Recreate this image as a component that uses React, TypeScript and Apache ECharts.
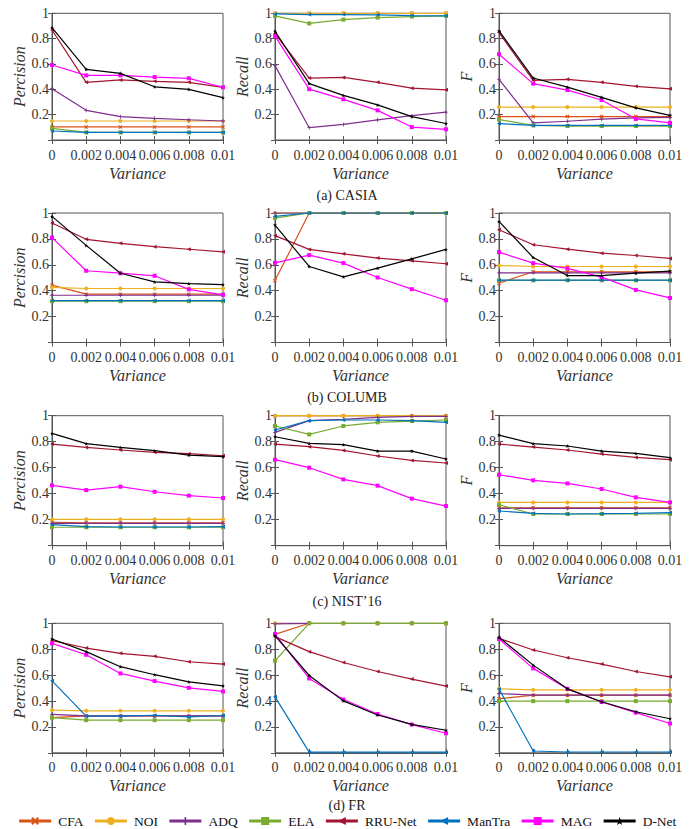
import React, { useEffect, useRef } from "react";
import * as echarts from "echarts";

const variances = [0, 0.002, 0.004, 0.006, 0.008, 0.01];
const methods = ["CFA", "NOI", "ADQ", "ELA", "RRU-Net", "ManTra", "MAG", "D-Net"];
const methodColors = ["#D95319", "#EDB120", "#7E2F8E", "#77AC30", "#A2142F", "#0072BD", "#FF00FF", "#000000"];
const yTicks = [0, 0.2, 0.4, 0.6, 0.8, 1];
const xTicks = [0, 0.002, 0.004, 0.006, 0.008, 0.01];
const subtitles = ["(a) CASIA", "(b) COLUMB", "(c) NIST\u201916", "(d) FR"];
const metricNames = ["Percision", "Recall", "F"];

// rows: CFA, NOI, ADQ, ELA, RRU-Net, ManTra, MAG, D-Net
const casiaP = [
  [0.103, 0.103, 0.103, 0.103, 0.103, 0.103],
  [0.15, 0.15, 0.15, 0.15, 0.15, 0.15],
  [0.405, 0.234, 0.184, 0.171, 0.16, 0.15],
  [0.092, 0.06, 0.06, 0.06, 0.06, 0.06],
  [0.868, 0.455, 0.474, 0.463, 0.455, 0.416],
  [0.071, 0.06, 0.06, 0.06, 0.06, 0.06],
  [0.592, 0.51, 0.51, 0.497, 0.487, 0.416],
  [0.887, 0.558, 0.526, 0.42, 0.4, 0.334],
];
const casiaR = [
  [1, 1, 1, 1, 1, 1],
  [1, 1, 1, 1, 1, 1],
  [0.587, 0.097, 0.123, 0.159, 0.192, 0.22],
  [0.98, 0.92, 0.95, 0.966, 0.974, 0.98],
  [0.84, 0.489, 0.494, 0.455, 0.409, 0.396],
  [0.995, 0.99, 0.99, 0.988, 0.982, 0.98],
  [0.82, 0.401, 0.321, 0.234, 0.102, 0.084],
  [0.858, 0.445, 0.352, 0.277, 0.184, 0.13],
];
const casiaF = [
  [0.185, 0.185, 0.185, 0.185, 0.185, 0.185],
  [0.26, 0.26, 0.26, 0.26, 0.26, 0.26],
  [0.479, 0.135, 0.148, 0.164, 0.174, 0.179],
  [0.161, 0.115, 0.11, 0.11, 0.11, 0.11],
  [0.848, 0.471, 0.479, 0.455, 0.424, 0.404],
  [0.13, 0.115, 0.115, 0.115, 0.115, 0.115],
  [0.677, 0.445, 0.394, 0.316, 0.166, 0.135],
  [0.861, 0.489, 0.417, 0.337, 0.254, 0.195],
];
const columbP = [
  [0.443, 0.373, 0.373, 0.373, 0.373, 0.373],
  [0.425, 0.417, 0.417, 0.417, 0.417, 0.417],
  [0.365, 0.365, 0.365, 0.365, 0.365, 0.365],
  [0.319, 0.319, 0.319, 0.319, 0.319, 0.319],
  [0.923, 0.797, 0.766, 0.74, 0.72, 0.7],
  [0.324, 0.324, 0.324, 0.324, 0.324, 0.324],
  [0.81, 0.554, 0.535, 0.515, 0.41, 0.368],
  [0.974, 0.75, 0.535, 0.468, 0.455, 0.447],
];
const columbR = [
  [0.478, 1, 1, 1, 1, 1],
  [1, 1, 1, 1, 1, 1],
  [1, 1, 1, 1, 1, 1],
  [0.961, 1, 1, 1, 1, 1],
  [0.825, 0.719, 0.685, 0.652, 0.631, 0.608],
  [0.974, 1, 1, 1, 1, 1],
  [0.615, 0.675, 0.613, 0.502, 0.412, 0.326],
  [0.907, 0.587, 0.507, 0.574, 0.646, 0.719],
];
const columbF = [
  [0.458, 0.546, 0.546, 0.546, 0.546, 0.546],
  [0.595, 0.587, 0.587, 0.587, 0.587, 0.587],
  [0.538, 0.538, 0.538, 0.538, 0.538, 0.538],
  [0.48, 0.48, 0.48, 0.48, 0.48, 0.48],
  [0.871, 0.755, 0.721, 0.69, 0.672, 0.649],
  [0.481, 0.481, 0.481, 0.481, 0.481, 0.481],
  [0.698, 0.613, 0.572, 0.505, 0.406, 0.344],
  [0.935, 0.656, 0.517, 0.517, 0.535, 0.551],
];
const nistP = [
  [0.18, 0.176, 0.176, 0.176, 0.176, 0.176],
  [0.203, 0.203, 0.203, 0.203, 0.203, 0.203],
  [0.172, 0.172, 0.172, 0.172, 0.172, 0.172],
  [0.142, 0.142, 0.142, 0.142, 0.142, 0.142],
  [0.782, 0.756, 0.736, 0.718, 0.708, 0.692],
  [0.162, 0.146, 0.144, 0.144, 0.144, 0.146],
  [0.464, 0.428, 0.454, 0.415, 0.385, 0.367],
  [0.864, 0.785, 0.756, 0.731, 0.697, 0.685],
];
const nistR = [
  [1, 1, 1, 1, 1, 1],
  [1, 1, 1, 1, 1, 1],
  [0.872, 0.962, 0.972, 0.987, 0.995, 0.995],
  [0.921, 0.856, 0.921, 0.949, 0.959, 0.967],
  [0.782, 0.762, 0.733, 0.69, 0.656, 0.636],
  [0.89, 0.962, 0.967, 0.967, 0.962, 0.949],
  [0.662, 0.6, 0.51, 0.462, 0.362, 0.305],
  [0.838, 0.787, 0.777, 0.728, 0.728, 0.667],
];
const nistF = [
  [0.292, 0.292, 0.292, 0.292, 0.292, 0.292],
  [0.333, 0.333, 0.333, 0.333, 0.333, 0.333],
  [0.287, 0.287, 0.287, 0.287, 0.287, 0.287],
  [0.315, 0.244, 0.244, 0.244, 0.244, 0.244],
  [0.782, 0.759, 0.736, 0.705, 0.679, 0.662],
  [0.267, 0.249, 0.244, 0.246, 0.249, 0.254],
  [0.546, 0.503, 0.479, 0.436, 0.372, 0.333],
  [0.851, 0.785, 0.767, 0.728, 0.71, 0.677],
];
const frP = [
  [0.272, 0.285, 0.285, 0.285, 0.285, 0.285],
  [0.329, 0.324, 0.324, 0.324, 0.324, 0.324],
  [0.296, 0.285, 0.285, 0.285, 0.285, 0.285],
  [0.272, 0.252, 0.252, 0.252, 0.252, 0.252],
  [0.866, 0.809, 0.768, 0.745, 0.703, 0.685],
  [0.556, 0.283, 0.283, 0.29, 0.277, 0.288],
  [0.845, 0.757, 0.613, 0.554, 0.502, 0.474],
  [0.879, 0.781, 0.665, 0.603, 0.548, 0.517],
];
const frR = [
  [0.915, 1, 1, 1, 1, 1],
  [1, 1, 1, 1, 1, 1],
  [0.995, 1, 1, 1, 1, 1],
  [0.711, 1, 1, 1, 1, 1],
  [0.897, 0.781, 0.697, 0.628, 0.569, 0.515],
  [0.432, 0.005, 0.005, 0.005, 0.005, 0.005],
  [0.917, 0.574, 0.412, 0.3, 0.218, 0.151],
  [0.905, 0.597, 0.401, 0.292, 0.22, 0.174],
];
const frF = [
  [0.417, 0.445, 0.445, 0.445, 0.445, 0.445],
  [0.494, 0.486, 0.486, 0.486, 0.486, 0.486],
  [0.458, 0.445, 0.445, 0.445, 0.445, 0.445],
  [0.399, 0.399, 0.399, 0.399, 0.399, 0.399],
  [0.884, 0.794, 0.734, 0.685, 0.628, 0.587],
  [0.492, 0.014, 0.006, 0.006, 0.006, 0.006],
  [0.879, 0.652, 0.494, 0.392, 0.31, 0.226],
  [0.892, 0.677, 0.494, 0.394, 0.317, 0.263],
];

const panelData = [
  [casiaP, casiaR, casiaF],
  [columbP, columbR, columbF],
  [nistP, nistR, nistF],
  [frP, frR, frF],
];

const FONT = "Liberation Serif";
const AXIS_COLOR = "#555";
const TEXT_COLOR = "#333";

const colLeft = [52, 275, 499];
const colWidth = 171;
const rowTop = [13.3, 213, 415.7, 623.3];
const rowHeight = [126.7, 129.5, 130, 129.5];
const subtitleY = [196, 398, 602, 806];

const symbols = [
  "path://M0,2 L2,0 L5,3 L8,0 L10,2 L7,5 L10,8 L8,10 L5,7 L2,10 L0,8 L3,5 Z",
  "circle",
  "path://M4,0 L6,0 L6,4 L10,4 L10,6 L6,6 L6,10 L4,10 L4,6 L0,6 L0,4 L4,4 Z",
  "rect",
  "path://M0,5 L10,0 L10,10 Z",
  "path://M0,5 L10,0 L10,10 Z",
  "rect",
  "path://M5,0 L6.2,3.6 L10,3.6 L7,5.9 L8.1,9.5 L5,7.3 L1.9,9.5 L3,5.9 L0,3.6 L3.8,3.6 Z",
];

function buildOption() {
  const grids: any[] = [];
  const xAxes: any[] = [];
  const yAxes: any[] = [];
  const extraX: any[] = [];
  const extraY: any[] = [];
  const series: any[] = [];
  const graphics: any[] = [];
  let idx = 0;
  for (let r = 0; r < 4; r++) {
    for (let c = 0; c < 3; c++) {
      const i = idx++;
      grids.push({
        left: colLeft[c],
        top: rowTop[r],
        width: colWidth,
        height: rowHeight[r],
        show: true,
        borderColor: AXIS_COLOR,
        borderWidth: 1,
        backgroundColor: "#fff",
      });
      const xBase = {
        type: "value",
        gridIndex: i,
        min: xTicks[0],
        max: xTicks[xTicks.length - 1],
        interval: 0.002,
        splitLine: { show: false },
      };
      const yBase = {
        type: "value",
        gridIndex: i,
        min: yTicks[0],
        max: yTicks[yTicks.length - 1],
        interval: 0.2,
        splitLine: { show: false },
      };
      xAxes.push({
        ...xBase,
        position: "bottom",
        axisLine: { show: true, lineStyle: { color: AXIS_COLOR, width: 1 } },
        axisTick: { show: true, inside: true, length: 4, lineStyle: { color: AXIS_COLOR } },
        axisLabel: {
          margin: 8,
          color: TEXT_COLOR,
          fontSize: 14,
          fontFamily: FONT,
          formatter: (v: number) => String(+v.toFixed(3)),
        },
        name: "Variance",
        nameLocation: "middle",
        nameGap: 25,
        nameTextStyle: { fontStyle: "italic", fontSize: 16, color: TEXT_COLOR, fontFamily: FONT },
      });
      yAxes.push({
        ...yBase,
        position: "left",
        axisLine: { show: true, lineStyle: { color: AXIS_COLOR, width: 1 } },
        axisTick: { show: true, inside: true, length: 4, lineStyle: { color: AXIS_COLOR } },
        axisLabel: {
          margin: 3,
          color: TEXT_COLOR,
          fontSize: 14,
          fontFamily: FONT,
          showMinLabel: false,
          formatter: (v: number) => String(+v.toFixed(1)),
        },
        name: metricNames[c],
        nameLocation: "middle",
        nameGap: 21,
        nameRotate: 90,
        nameTextStyle: { fontStyle: "italic", fontSize: 16, color: TEXT_COLOR, fontFamily: FONT },
      });
      extraX.push({
        ...xBase,
        position: "top",
        axisLine: { show: false },
        axisTick: { show: true, inside: true, length: 4, lineStyle: { color: AXIS_COLOR } },
        axisLabel: { show: false },
      });
      extraY.push({
        ...yBase,
        position: "right",
        axisLine: { show: false },
        axisTick: { show: true, inside: true, length: 4, lineStyle: { color: AXIS_COLOR } },
        axisLabel: { show: false },
      });
      const rows = panelData[r][c];
      rows.forEach((vals, m) => {
        series.push({
          type: "line",
          name: methods[m],
          xAxisIndex: i,
          yAxisIndex: i,
          data: vals.map((v, k) => [variances[k], v]),
          symbol: symbols[m],
          symbolSize: 4,
          showSymbol: true,
          lineStyle: { color: methodColors[m], width: 1.2 },
          itemStyle: { color: methodColors[m] },
          z: 2 + m,
          silent: true,
        });
      });
    }
    graphics.push({
      type: "text",
      left: "center",
      top: subtitleY[r] - 8,
      style: { text: subtitles[r], fontSize: 14, fontFamily: FONT, fill: "#222" },
    });
  }
  return {
    animation: false,
    backgroundColor: "#fff",
    textStyle: { fontFamily: FONT },
    grid: grids,
    xAxis: [...xAxes, ...extraX],
    yAxis: [...yAxes, ...extraY],
    series,
    graphic: graphics,
    legend: {
      data: methods,
      left: "center",
      top: 814,
      padding: 0,
      itemWidth: 32,
      itemHeight: 10,
      itemGap: 10,
      lineStyle: { width: 3 },
      textStyle: { fontSize: 13.5, fontFamily: FONT, color: "#111", padding: [0, 0, 0, 2] },
      selectedMode: false,
    },
  };
}

export default function App() {
  const ref = useRef<HTMLDivElement>(null);
  useEffect(() => {
    document.body.style.margin = "0";
    if (!ref.current) return;
    const chart = echarts.init(ref.current, undefined, { renderer: "svg" });
    chart.setOption(buildOption() as any);
    return () => chart.dispose();
  }, []);
  return <div ref={ref} style={{ width: 694, height: 829, background: "#fff" }} />;
}
